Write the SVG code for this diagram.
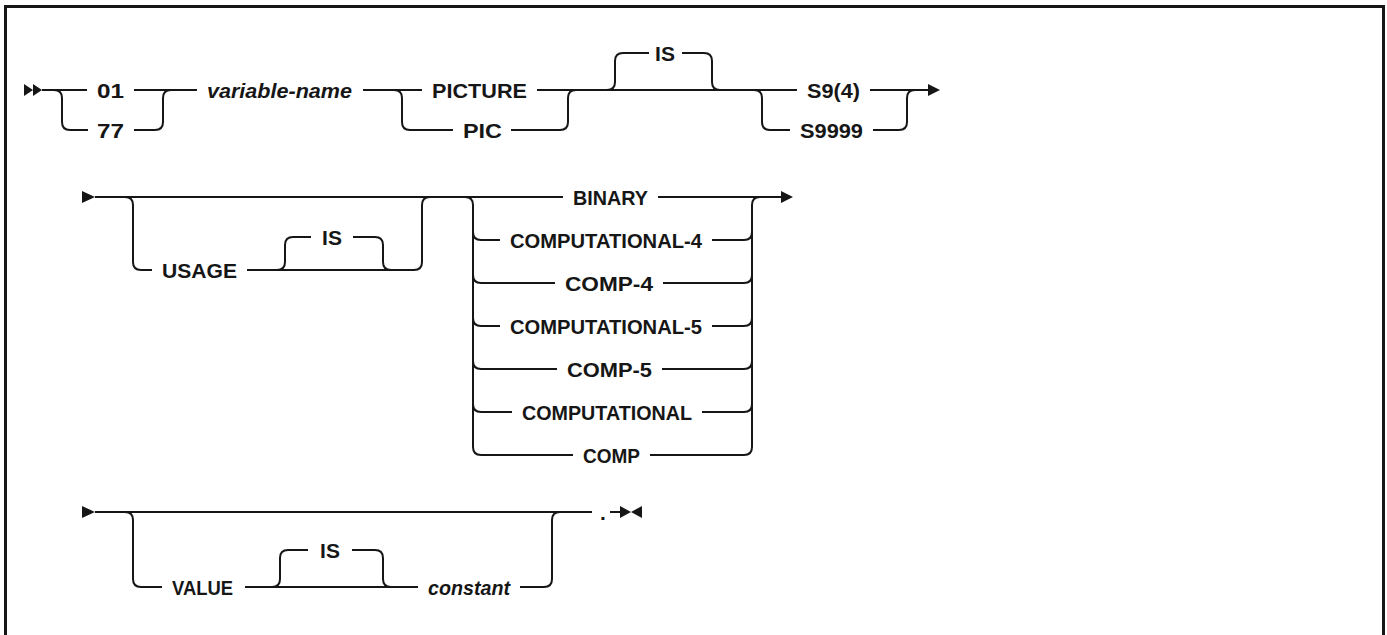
<svg xmlns="http://www.w3.org/2000/svg" width="1387" height="635" viewBox="0 0 1387 635">
<style>
.ln{fill:none;stroke:#161616;stroke-width:2}
.t{font-family:"Liberation Sans",Arial,sans-serif;font-weight:bold;font-size:21px;fill:#161616}
.i{font-family:"Liberation Sans",Arial,sans-serif;font-style:italic;font-weight:bold;font-size:21px;fill:#161616}
.ah{fill:#161616}
</style>
<rect width="1387" height="635" fill="#fff"/>
<path d="M5.5 640 V6.5 H1383.5 V640" fill="none" stroke="#161616" stroke-width="3"/>
<g id="connectors">
<!-- row 1 -->
<path class="ah" d="M24 84 L33 90 L24 96 Z M33 84 L42 90 L33 96 Z"/>
<path class="ln" d="M42 90 H87 M134 90 H197"/>
<path class="ln" d="M54 90 Q62 90 62 98 V122 Q62 130 70 130 H88 M134 130 H155 Q163 130 163 122 V98 Q163 90 171 90"/>
<path class="ln" d="M363 90 H422 M537 90 H797 M870 90 H928"/>
<path class="ln" d="M394 90 Q402 90 402 98 V122 Q402 130 410 130 H453 M511 130 H560 Q568 130 568 122 V98 Q568 90 576 90"/>
<path class="ln" d="M607 90 Q615 90 615 82 V61 Q615 53 623 53 H649 M682 53 H704 Q712 53 712 61 V82 Q712 90 720 90"/>
<path class="ln" d="M754 90 Q762 90 762 98 V122 Q762 130 770 130 H790 M873 130 H899 Q907 130 907 122 V98 Q907 90 915 90"/>
<path class="ah" d="M928 84 L940 90 L928 96 Z"/>
<!-- row 2 -->
<path class="ah" d="M82 191 L95 197 L82 203 Z"/>
<path class="ln" d="M95 197 H563 M658 197 H781"/>
<path class="ah" d="M781 191 L793 197 L781 203 Z"/>
<path class="ln" d="M125 197 Q133 197 133 205 V262 Q133 270 141 270 H152 M247 270 H414 Q422 270 422 262 V205 Q422 197 430 197"/>
<path class="ln" d="M277 270 Q285 270 285 262 V245 Q285 237 293 237 H311 M353 237 H375 Q383 237 383 245 V262 Q383 270 391 270"/>
<path class="ln" d="M465 197 Q473 197 473 205 V447 Q473 455 481 455 H573 M650 455 H744 Q752 455 752 447 V205 Q752 197 760 197"/>
<path class="ln" d="M473 232 Q473 240 481 240 H500 M712 240 H744 Q752 240 752 232"/>
<path class="ln" d="M473 275 Q473 283 481 283 H555 M663 283 H744 Q752 283 752 275"/>
<path class="ln" d="M473 318 Q473 326 481 326 H500 M712 326 H744 Q752 326 752 318"/>
<path class="ln" d="M473 361 Q473 369 481 369 H557 M662 369 H744 Q752 369 752 361"/>
<path class="ln" d="M473 404 Q473 412 481 412 H512 M702 412 H744 Q752 412 752 404"/>
<!-- row 3 -->
<path class="ah" d="M82 506 L95 512 L82 518 Z"/>
<path class="ln" d="M95 512 H592 M610 512 H622"/>
<path class="ah" d="M620 506 L631 512 L620 518 Z M642 506 L631 512 L642 518 Z"/>
<path class="ln" d="M125 512 Q133 512 133 520 V579 Q133 587 141 587 H162 M245 587 H418 M520 587 H544 Q552 587 552 579 V520 Q552 512 560 512"/>
<path class="ln" d="M272 587 Q280 587 280 579 V558 Q280 550 288 550 H308 M352 550 H375 Q383 550 383 558 V579 Q383 587 391 587"/>
</g>
<g id="n-01"><text class="t" x="97" y="97.5" textLength="27" lengthAdjust="spacingAndGlyphs">01</text></g>
<g id="n-77"><text class="t" x="97" y="137.5" textLength="27" lengthAdjust="spacingAndGlyphs">77</text></g>
<g id="n-varname"><text class="i" x="207" y="97.5" textLength="145" lengthAdjust="spacingAndGlyphs">variable-name</text></g>
<g id="n-picture"><text class="t" x="432" y="97.5" textLength="95" lengthAdjust="spacingAndGlyphs">PICTURE</text></g>
<g id="n-pic"><text class="t" x="463" y="137.5" textLength="39" lengthAdjust="spacingAndGlyphs">PIC</text></g>
<g id="n-is1"><text class="t" x="665" y="60.5" text-anchor="middle">IS</text></g>
<g id="n-s94"><text class="t" x="807" y="97.5" textLength="53" lengthAdjust="spacingAndGlyphs">S9(4)</text></g>
<g id="n-s9999"><text class="t" x="800" y="137.5" textLength="63" lengthAdjust="spacingAndGlyphs">S9999</text></g>
<g id="n-usage"><text class="t" x="162" y="277.5" textLength="75" lengthAdjust="spacingAndGlyphs">USAGE</text></g>
<g id="n-is2"><text class="t" x="332" y="244.5" text-anchor="middle">IS</text></g>
<g id="n-binary"><text class="t" x="573" y="204.5" textLength="75" lengthAdjust="spacingAndGlyphs">BINARY</text></g>
<g id="n-comp4l"><text class="t" x="510" y="247.5" textLength="192" lengthAdjust="spacingAndGlyphs">COMPUTATIONAL-4</text></g>
<g id="n-comp4"><text class="t" x="565" y="290.5" textLength="88" lengthAdjust="spacingAndGlyphs">COMP-4</text></g>
<g id="n-comp5l"><text class="t" x="510" y="333.5" textLength="192" lengthAdjust="spacingAndGlyphs">COMPUTATIONAL-5</text></g>
<g id="n-comp5"><text class="t" x="567" y="376.5" textLength="85" lengthAdjust="spacingAndGlyphs">COMP-5</text></g>
<g id="n-compl"><text class="t" x="522" y="419.5" textLength="170" lengthAdjust="spacingAndGlyphs">COMPUTATIONAL</text></g>
<g id="n-comp"><text class="t" x="583" y="462.5" textLength="57" lengthAdjust="spacingAndGlyphs">COMP</text></g>
<g id="n-value"><text class="t" x="172" y="594.5" textLength="61" lengthAdjust="spacingAndGlyphs">VALUE</text></g>
<g id="n-is3"><text class="t" x="330" y="557.5" text-anchor="middle">IS</text></g>
<g id="n-constant"><text class="i" x="428" y="594.5" textLength="82" lengthAdjust="spacingAndGlyphs">constant</text></g>
<g id="n-period"><text class="t" x="603" y="519.5" text-anchor="middle">.</text></g>
</svg>
